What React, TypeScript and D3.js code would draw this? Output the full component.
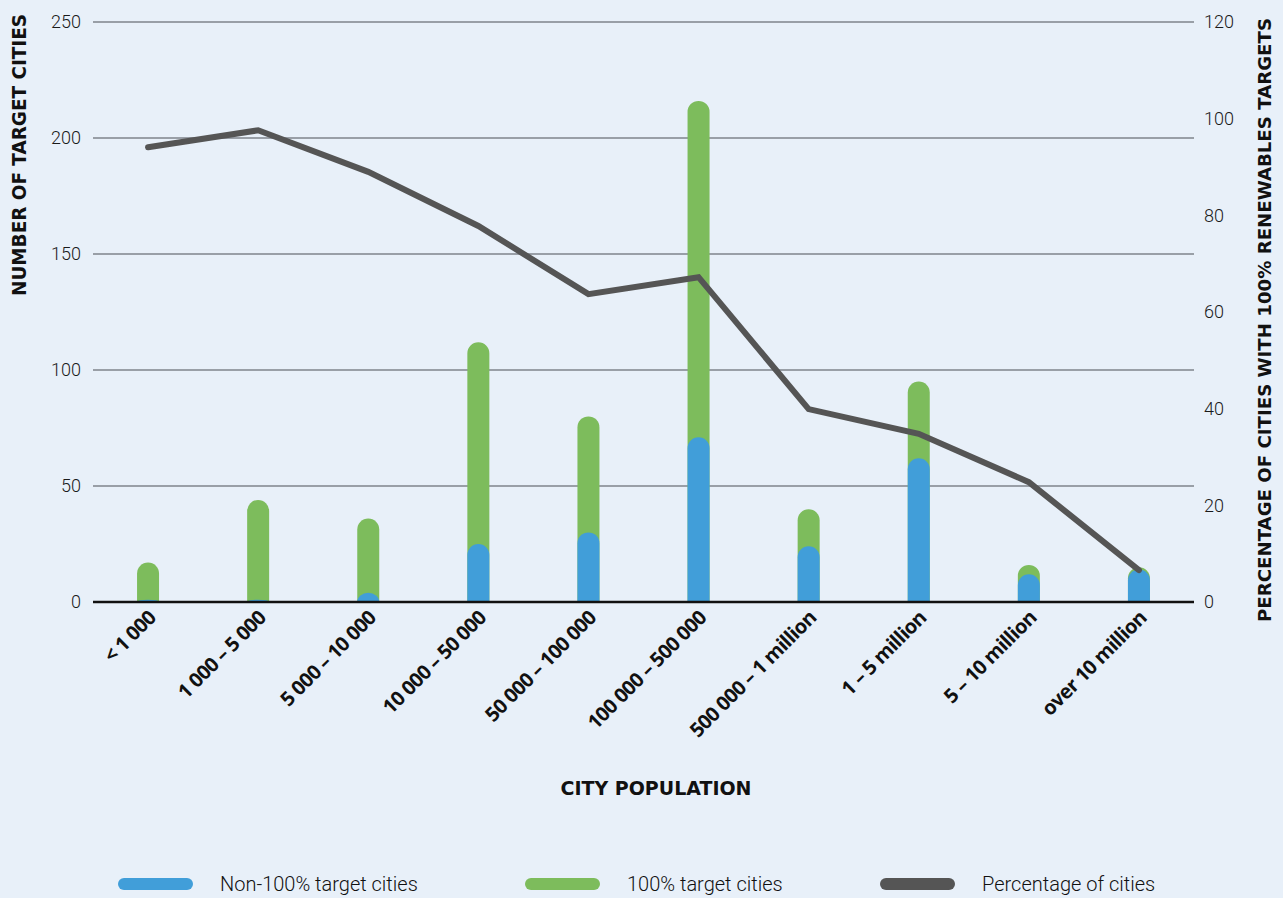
import { useRef, useEffect } from "react";
import * as d3 from "d3";

// city size buckets
const categories = [
  "< 1 000",
  "1 000 – 5 000",
  "5 000 – 10 000",
  "10 000 – 50 000",
  "50 000 – 100 000",
  "100 000 – 500 000",
  "500 000 – 1 million",
  "1 – 5 million",
  "5 – 10 million",
  "over 10 million",
];

// number of cities
const non100Cities = [1, 1, 4, 25, 30, 71, 24, 62, 12, 14];
const full100Cities = [16, 43, 32, 87, 50, 145, 16, 33, 4, 1];

// percentage of cities with 100% targets (right axis)
const percentCities = [94.1, 97.6, 89, 77.8, 63.7, 67.2, 39.9, 34.8, 24.8, 6.6];

const leftTicks = [0, 50, 100, 150, 200, 250];
const rightTicks = [0, 20, 40, 60, 80, 100, 120];

const legendItems = [
  { label: "Non-100% target cities", color: "#419ed9" },
  { label: "100% target cities", color: "#7dbc5c" },
  { label: "Percentage of cities", color: "#555555" },
];

const App = () => {
  const chartRef = useRef<HTMLDivElement | null>(null);

  useEffect(() => {
    if (chartRef.current === null) return;

    const width = 1283;
    const height = 898;
    const plot = { left: 93, right: 1194, top: 22, bottom: 602 };
    const barWidth = 22;

    d3.select(chartRef.current).select("svg").remove();

    const svg = d3
      .select(chartRef.current)
      .append("svg")
      .attr("width", width)
      .attr("height", height)
      .style("display", "block");

    svg.append("rect").attr("width", width).attr("height", height).attr("fill", "#e8f0f9");

    const xScale = d3
      .scaleBand()
      .domain(categories)
      .range([plot.left, plot.right])
      .padding(0);

    const yLeft = d3.scaleLinear().domain([0, 250]).range([plot.bottom, plot.top]);
    const yRight = d3.scaleLinear().domain([0, 120]).range([plot.bottom, plot.top]);

    // grid lines
    svg
      .append("g")
      .selectAll("line")
      .data(leftTicks.filter((t) => t > 0))
      .enter()
      .append("line")
      .attr("x1", plot.left)
      .attr("x2", plot.right)
      .attr("y1", (d) => yLeft(d))
      .attr("y2", (d) => yLeft(d))
      .attr("stroke", "#4a4f56")
      .attr("stroke-width", 1.2);

    // left tick labels
    svg
      .append("g")
      .selectAll("text")
      .data(leftTicks)
      .enter()
      .append("text")
      .attr("x", 81)
      .attr("y", (d) => yLeft(d))
      .attr("dy", "0.35em")
      .attr("text-anchor", "end")
      .attr("font-family", "Roboto, sans-serif")
      .attr("font-size", 18)
      .attr("font-weight", 300)
      .attr("fill", "#1a1a1a")
      .text((d) => d);

    // right tick labels
    svg
      .append("g")
      .selectAll("text")
      .data(rightTicks)
      .enter()
      .append("text")
      .attr("x", 1204)
      .attr("y", (d) => yRight(d))
      .attr("dy", "0.35em")
      .attr("text-anchor", "start")
      .attr("font-family", "Roboto, sans-serif")
      .attr("font-size", 18)
      .attr("font-weight", 300)
      .attr("fill", "#1a1a1a")
      .text((d) => d);

    // bar path with rounded top and flat base
    const barPath = (cx: number, y0: number, y1: number) => {
      const h = y0 - y1;
      const x0 = cx - barWidth / 2;
      const x1 = cx + barWidth / 2;
      const rx = barWidth / 2;
      const ry = Math.min(rx, h);
      return `M${x0},${y0}L${x0},${y1 + ry}A${rx},${ry} 0 0 1 ${x1},${y1 + ry}L${x1},${y0}Z`;
    };

    const center = (c: string) => (xScale(c) ?? 0) + xScale.bandwidth() / 2;

    // green bars = total height
    svg
      .append("g")
      .selectAll("path")
      .data(categories)
      .enter()
      .append("path")
      .attr("d", (c, i) => barPath(center(c), yLeft(0), yLeft(non100Cities[i] + full100Cities[i])))
      .attr("fill", "#7dbc5c");

    // blue bars in front
    svg
      .append("g")
      .selectAll("path")
      .data(categories)
      .enter()
      .append("path")
      .attr("d", (c, i) => barPath(center(c), yLeft(0), yLeft(non100Cities[i])))
      .attr("fill", "#419ed9");

    // baseline
    svg
      .append("line")
      .attr("x1", plot.left)
      .attr("x2", plot.right)
      .attr("y1", yLeft(0))
      .attr("y2", yLeft(0))
      .attr("stroke", "#111")
      .attr("stroke-width", 2.5);

    // percentage line
    const line = d3
      .line<number>()
      .x((d, i) => center(categories[i]))
      .y((d) => yRight(d));

    svg
      .append("path")
      .datum(percentCities)
      .attr("d", line)
      .attr("fill", "none")
      .attr("stroke", "#555555")
      .attr("stroke-width", 6)
      .attr("stroke-linecap", "round");

    // x labels, rotated
    svg
      .append("g")
      .selectAll("text")
      .data(categories)
      .enter()
      .append("text")
      .attr("transform", (c) => `translate(${center(c) + 9},${plot.bottom + 17}) rotate(-45)`)
      .attr("text-anchor", "end")
      .attr("font-family", "'Open Sans', sans-serif")
      .attr("font-size", 20)
      .attr("font-weight", 700)
      .attr("letter-spacing", -0.6)
      .attr("fill", "#111")
      .text((c) => c);

    // axis titles
    svg
      .append("text")
      .attr("x", 656)
      .attr("y", 795)
      .attr("text-anchor", "middle")
      .attr("font-family", "'DejaVu Sans', sans-serif")
      .attr("font-size", 20)
      .attr("font-weight", 700)
      .attr("textLength", 191)
      .attr("lengthAdjust", "spacingAndGlyphs")
      .attr("fill", "#111")
      .text("CITY POPULATION");

    svg
      .append("text")
      .attr("transform", "translate(26,155) rotate(-90)")
      .attr("text-anchor", "middle")
      .attr("font-family", "'DejaVu Sans', sans-serif")
      .attr("font-size", 19)
      .attr("font-weight", 700)
      .attr("textLength", 282)
      .attr("lengthAdjust", "spacingAndGlyphs")
      .attr("fill", "#111")
      .text("NUMBER OF TARGET CITIES");

    svg
      .append("text")
      .attr("transform", "translate(1271,320) rotate(-90)")
      .attr("text-anchor", "middle")
      .attr("font-family", "'DejaVu Sans', sans-serif")
      .attr("font-size", 18)
      .attr("font-weight", 700)
      .attr("textLength", 604)
      .attr("lengthAdjust", "spacingAndGlyphs")
      .attr("fill", "#111")
      .text("PERCENTAGE OF CITIES WITH 100% RENEWABLES TARGETS");

    // legend
    const legendX = [118, 525, 880];
    const legend = svg
      .append("g")
      .selectAll("g")
      .data(legendItems)
      .enter()
      .append("g")
      .attr("transform", (d, i) => `translate(${legendX[i]},884)`);

    legend
      .append("rect")
      .attr("x", 0)
      .attr("y", -6)
      .attr("width", 75)
      .attr("height", 12)
      .attr("rx", 6)
      .attr("fill", (d) => d.color);

    legend
      .append("text")
      .attr("x", 102)
      .attr("y", 0)
      .attr("dy", "0.35em")
      .attr("font-family", "Roboto, sans-serif")
      .attr("font-size", 20)
      .attr("font-weight", 300)
      .attr("fill", "#111")
      .text((d) => d.label);
  }, []);

  return <div ref={chartRef} style={{ position: "fixed", left: 0, top: 0 }} />;
};

export default App;
